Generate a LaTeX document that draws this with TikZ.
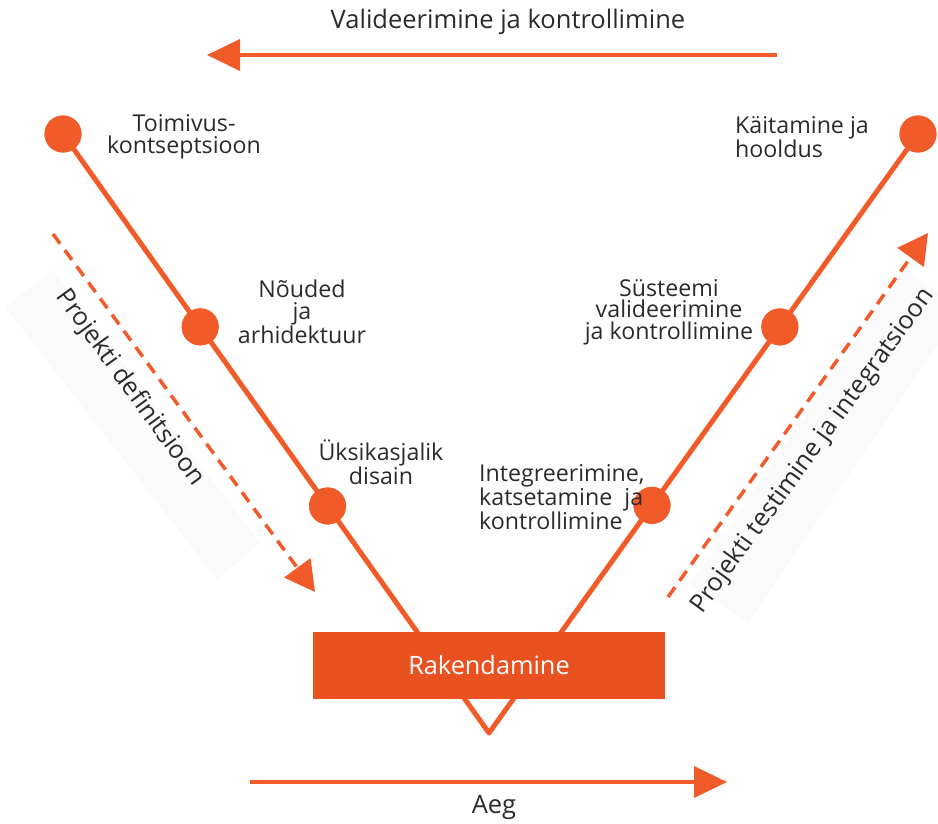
\documentclass[tikz,border=0pt]{standalone}
\usepackage{fontspec}
\setmainfont{Open Sans}
\usetikzlibrary{arrows.meta,calc}
\definecolor{vorange}{HTML}{F15A29}
\definecolor{boxorange}{HTML}{EA5120}
\definecolor{txt}{HTML}{2B2B2B}
\definecolor{band}{HTML}{FAFAFA}
\begin{document}
\begin{tikzpicture}[x=1pt,y=-1pt,
  dot/.style={circle,fill=vorange,minimum size=37pt,inner sep=0pt},
  lab/.style={font=\fontsize{23.2}{21.5}\selectfont,text=txt,inner sep=0pt,align=center},
  vline/.style={draw=vorange,line width=5pt,line join=round},
  bigarrow/.style={draw=vorange,line width=4pt,-{Triangle[length=33pt,width=31pt]}},
  dasharrow/.style={draw=vorange,line width=3.5pt,dash pattern=on 12pt off 8pt,-{Triangle[length=30pt,width=32pt]}},
  rottext/.style={font=\fontsize{25.2}{25.2}\selectfont,text=txt,inner sep=0pt},
  plain/.style={font=\fontsize{25.5}{25.5}\selectfont,text=txt,inner sep=0pt}
]
\useasboundingbox (0,0) rectangle (938,823);

% light bands behind rotated texts
\fill[band] (5,307) -- (53,270) -- (260,543) -- (217,580) -- cycle;
\fill[band] (748,623) -- (690,584) -- (904,269) -- (962,309) -- cycle;

% top arrow
\coordinate (ta1) at (777,55);
\coordinate (ta2) at (207,55);
\draw[bigarrow] (ta1) -- (ta2);
\node[plain] (toptext) at (508,22) {Valideerimine ja kontrollimine};

% bottom arrow
\coordinate (ba1) at (250,782);
\coordinate (ba2) at (727,782);
\draw[bigarrow] (ba1) -- (ba2);
\node[plain] (aeg) at (494,807) {Aeg};

% dashed arrows
\coordinate (la1) at (53,234);
\coordinate (la2) at (315,592);
\draw[dasharrow] (la1) -- (la2);
\coordinate (ra1) at (668,597);
\coordinate (ra2) at (928,233);
\draw[dasharrow] (ra1) -- (ra2);

\node[rottext,rotate=-54] (pdef) at (130,388) {Projekti definitsioon};
\node[rottext,rotate=54] (ptest) at (813,451) {Projekti testimine ja integratsioon};

% V
\coordinate (bot) at (489,733);
\node[dot] (c1) at (63,134) {};
\node[dot] (d1) at (918,134) {};
\node[dot] (c2) at ($(c1)!0.322!(bot)$) {};
\node[dot] (c3) at ($(c1)!0.621!(bot)$) {};
\node[dot] (d2) at ($(d1)!0.322!(bot)$) {};
\node[dot] (d3) at ($(d1)!0.620!(bot)$) {};
\draw[vline] (c1.center) -- (bot) -- (d1.center);
\foreach \n in {c1,c2,c3,d1,d2,d3} {\fill[vorange] (\n) circle (18.5pt);}

% labels
\node[lab] (l1) at (184,137) {Toimivus-\\kontseptsioon};
\node[lab] (l2) at (302,312) {Nõuded\\ja\\arhidektuur};
\node[lab] (l3) at (381,462) {Üksikasjalik\\disain};
\node[lab,anchor=west,align=left] (r3) at (479,497) {Integreerimine,\\katsetamine\ \ ja\\kontrollimine};
\node[lab] (r2) at (669,312) {Süsteemi\\valideerimine\\ja kontrollimine};
\node[lab,anchor=west,align=left] (r1) at (735,137) {Käitamine ja\\hooldus};

% implementation box
\node[fill=boxorange,minimum width=352pt,minimum height=67pt,inner sep=0pt,text=white,font=\fontsize{25.3}{25.3}\selectfont] (impl) at (489,665.5) {Rakendamine};
\end{tikzpicture}
\end{document}
